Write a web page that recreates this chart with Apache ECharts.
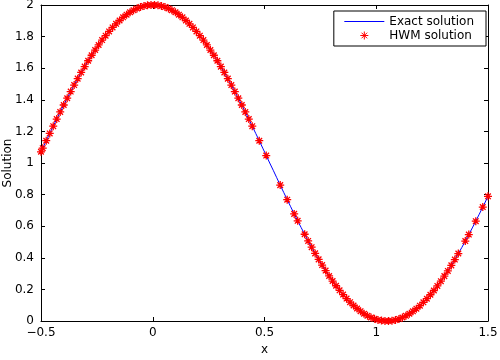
<!DOCTYPE html>
<html>
<head>
<meta charset="utf-8">
<script src="https://cdn.jsdelivr.net/npm/echarts@6/dist/echarts.min.js"></script>
<style>
html,body{margin:0;padding:0;background:#fff;}
#main{width:500px;height:360px;}
</style>
</head>
<body>
<div id="main"></div>
<script>
// exact solution
var exactX = [-0.5,
  -0.4922,-0.4766,-0.4609,-0.4453,-0.4297,-0.4141,-0.3984,-0.3828,-0.3672,-0.3516,-0.3359,-0.3203,-0.3047,-0.2891,-0.2734,-0.2578,
  -0.2422,-0.2266,-0.2109,-0.1953,-0.1797,-0.1641,-0.1484,-0.1328,-0.1172,-0.1016,-0.0859,-0.0703,-0.0547,-0.0391,-0.0234,-0.0078,
  0.0078,0.0234,0.0391,0.0547,0.0703,0.0859,0.1016,0.1172,0.1328,0.1484,0.1641,0.1797,0.1953,0.2109,0.2266,0.2422,
  0.2578,0.2734,0.2891,0.3047,0.3203,0.3359,0.3516,0.3672,0.3828,0.3984,0.4141,0.4297,0.4453,0.4609,0.4766,0.4922,
  0.5078,0.5234,0.5391,0.5547,0.5703,0.5859,0.6016,0.6172,0.6328,0.6484,0.6641,0.6797,0.6953,0.7109,0.7266,0.7422,
  0.7578,0.7734,0.7891,0.8047,0.8203,0.8359,0.8516,0.8672,0.8828,0.8984,0.9141,0.9297,0.9453,0.9609,0.9766,0.9922,
  1.0078,1.0234,1.0391,1.0547,1.0703,1.0859,1.1016,1.1172,1.1328,1.1484,1.1641,1.1797,1.1953,1.2109,1.2266,1.2422,
  1.2578,1.2734,1.2891,1.3047,1.3203,1.3359,1.3516,1.3672,1.3828,1.3984,1.4141,1.4297,1.4453,1.4609,1.4766,1.4922,
  1.5];
var exactY = [1.071,
  1.094,1.141,1.187,1.233,1.278,1.323,1.367,1.410,1.452,1.493,1.534,1.573,1.610,1.647,1.682,1.715,
  1.747,1.778,1.806,1.833,1.858,1.881,1.902,1.922,1.939,1.954,1.967,1.978,1.987,1.993,1.998,2.000,
  2.000,1.998,1.993,1.987,1.978,1.967,1.954,1.939,1.922,1.902,1.881,1.858,1.833,1.806,1.778,1.747,
  1.715,1.682,1.647,1.610,1.573,1.534,1.493,1.452,1.410,1.367,1.323,1.278,1.233,1.187,1.141,1.094,
  1.047,1.000,0.954,0.907,0.860,0.814,0.768,0.723,0.678,0.634,0.591,0.549,0.507,0.467,0.428,0.390,
  0.354,0.319,0.285,0.253,0.223,0.194,0.167,0.142,0.119,0.098,0.079,0.062,0.046,0.033,0.022,0.014,
  0.007,0.003,0.000,0.000,0.002,0.007,0.013,0.022,0.033,0.046,0.061,0.078,0.097,0.118,0.141,0.166,
  0.193,0.222,0.252,0.284,0.317,0.352,0.389,0.427,0.465,0.506,0.547,0.589,0.632,0.676,0.721,0.766,
  0.789];

// HWM solution markers (sparser where the curve is steep)
var hwmX = [-0.5,
  -0.4922,-0.4766,-0.4609,-0.4453,-0.4297,-0.4141,-0.3984,-0.3828,-0.3672,-0.3516,-0.3359,-0.3203,-0.3047,-0.2891,-0.2734,-0.2578,
  -0.2422,-0.2266,-0.2109,-0.1953,-0.1797,-0.1641,-0.1484,-0.1328,-0.1172,-0.1016,-0.0859,-0.0703,-0.0547,-0.0391,-0.0234,-0.0078,
  0.0078,0.0234,0.0391,0.0547,0.0703,0.0859,0.1016,0.1172,0.1328,0.1484,0.1641,0.1797,0.1953,0.2109,0.2266,0.2422,
  0.2578,0.2734,0.2891,0.3047,0.3203,0.3359,0.3516,0.3672,0.3828,0.3984,0.4141,0.4297,0.4453,0.4766,
  0.5078,0.5703,0.6016,0.6328,0.6484,0.6797,0.6953,0.7109,0.7266,0.7422,
  0.7578,0.7734,0.7891,0.8047,0.8203,0.8359,0.8516,0.8672,0.8828,0.8984,0.9141,0.9297,0.9453,0.9609,0.9766,0.9922,
  1.0078,1.0234,1.0391,1.0547,1.0703,1.0859,1.1016,1.1172,1.1328,1.1484,1.1641,1.1797,1.1953,1.2109,1.2266,1.2422,
  1.2578,1.2734,1.2891,1.3047,1.3203,1.3359,1.3516,1.3672,1.3984,1.4141,1.4453,1.4766,
  1.5];
var hwmY = [1.071,
  1.094,1.141,1.187,1.233,1.278,1.323,1.367,1.410,1.452,1.493,1.534,1.573,1.610,1.647,1.682,1.715,
  1.747,1.778,1.806,1.833,1.858,1.881,1.902,1.922,1.939,1.954,1.967,1.978,1.987,1.993,1.998,2.000,
  2.000,1.998,1.993,1.987,1.978,1.967,1.954,1.939,1.922,1.902,1.881,1.858,1.833,1.806,1.778,1.747,
  1.715,1.682,1.647,1.610,1.573,1.534,1.493,1.452,1.410,1.367,1.323,1.278,1.233,1.141,
  1.047,0.860,0.768,0.678,0.634,0.549,0.507,0.467,0.428,0.390,
  0.354,0.319,0.285,0.253,0.223,0.194,0.167,0.142,0.119,0.098,0.079,0.062,0.046,0.033,0.022,0.014,
  0.007,0.003,0.000,0.000,0.002,0.007,0.013,0.022,0.033,0.046,0.061,0.078,0.097,0.118,0.141,0.166,
  0.193,0.222,0.252,0.284,0.317,0.352,0.389,0.427,0.506,0.547,0.632,0.721,
  0.789];

var xTicks = [-0.5, 0, 0.5, 1, 1.5];
var seriesNames = ['Exact solution', 'HWM solution'];

var font = 'DejaVu Sans';
var asterisk = 'path://M0,5L10,5M5,0L5,10M1.5,1.5L8.5,8.5M1.5,8.5L8.5,1.5';

function pairs(xs, ys) {
  var out = [];
  for (var i = 0; i < xs.length; i++) out.push([xs[i], ys[i]]);
  return out;
}

var chart = echarts.init(document.getElementById('main'), null, {renderer: 'canvas'});
var option = {
  animation: false,
  backgroundColor: '#fff',
  textStyle: {fontFamily: font},
  grid: {left: 41, right: 12, top: 5, bottom: 39, containLabel: false, outerBoundsMode: 'none'},
  legend: {
    orient: 'vertical',
    right: 14,
    top: 11,
    padding: [4, 12, 4, 10],
    itemGap: 1,
    itemWidth: 40,
    itemHeight: 8,
    borderColor: '#000',
    borderWidth: 1,
    borderRadius: 0,
    backgroundColor: '#fff',
    lineStyle: {color: '#0000ff', width: 1},
    itemStyle: {borderWidth: 1},
    textStyle: {fontFamily: font, fontSize: 12, color: '#000', lineHeight: 13},
    data: [
      {name: seriesNames[0], itemStyle: {opacity: 0}},
      {name: seriesNames[1]}
    ]
  },
  xAxis: [{
    type: 'value',
    min: -0.5,
    max: 1.5,
    interval: 0.5,
    name: 'x',
    nameLocation: 'middle',
    nameGap: 19,
    nameTextStyle: {fontFamily: font, fontSize: 12, color: '#000'},
    axisLine: {onZero: false, lineStyle: {color: '#000', width: 1}},
    axisTick: {inside: true, length: 4, lineStyle: {color: '#000'}},
    axisLabel: {
      margin: 6, fontFamily: font, fontSize: 12, color: '#000',
      formatter: function (v) {
        for (var i = 0; i < xTicks.length; i++) {
          if (Math.abs(v - xTicks[i]) < 1e-9) return String(xTicks[i]).replace('-', '\u2212');
        }
        return '';
      }
    },
    splitLine: {show: false}
  }, {
    type: 'value',
    position: 'top',
    min: -0.5,
    max: 1.5,
    interval: 0.5,
    axisLine: {onZero: false, lineStyle: {color: '#000', width: 1}},
    axisTick: {inside: true, length: 4, lineStyle: {color: '#000'}},
    axisLabel: {show: false},
    splitLine: {show: false}
  }],
  yAxis: [{
    type: 'value',
    min: 0,
    max: 2,
    interval: 0.2,
    name: 'Solution',
    nameLocation: 'middle',
    nameGap: 27,
    nameMoveOverlap: false,
    nameTextStyle: {fontFamily: font, fontSize: 12, color: '#000'},
    axisLine: {show: true, onZero: false, lineStyle: {color: '#000', width: 1}},
    axisTick: {show: true, inside: true, length: 4, lineStyle: {color: '#000'}},
    axisLabel: {margin: 7, fontFamily: font, fontSize: 12, color: '#000'},
    splitLine: {show: false}
  }, {
    type: 'value',
    position: 'right',
    min: 0,
    max: 2,
    interval: 0.2,
    axisLine: {show: true, onZero: false, lineStyle: {color: '#000', width: 1}},
    axisTick: {show: true, inside: true, length: 4, lineStyle: {color: '#000'}},
    axisLabel: {show: false},
    splitLine: {show: false}
  }],
  series: [{
    name: seriesNames[0],
    type: 'line',
    data: pairs(exactX, exactY),
    symbol: 'none',
    smooth: false,
    lineStyle: {color: '#0000ff', width: 1},
    itemStyle: {color: '#0000ff'},
    z: 2
  }, {
    name: seriesNames[1],
    type: 'scatter',
    data: pairs(hwmX, hwmY),
    symbol: asterisk,
    symbolSize: 8,
    symbolKeepAspect: true,
    itemStyle: {color: '#ff0000', borderColor: '#ff0000', borderWidth: 1.3, opacity: 1},
    z: 3
  }]
};
chart.setOption(option);
</script>
</body>
</html>
